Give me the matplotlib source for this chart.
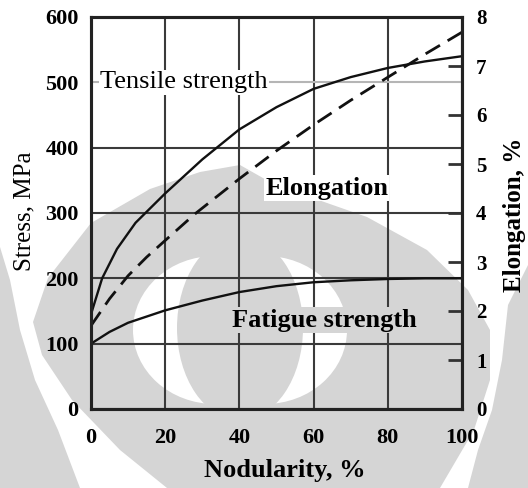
import numpy as np
import matplotlib
matplotlib.use('Agg')
import matplotlib.pyplot as plt
from matplotlib.patches import Ellipse, Polygon

# dati
nodularita = [0, 3, 7, 12, 20, 30, 40, 50, 60, 70, 80, 90, 100]
tensile = [145, 200, 245, 285, 330, 382, 428, 462, 490, 508, 522, 532, 540]

nod_fatica = [0, 5, 10, 20, 30, 40, 50, 60, 70, 80, 90, 100]
fatica = [100, 118, 132, 151, 166, 179, 188, 194, 197, 199, 200, 200]

nod_allung = [0, 5, 10, 15, 20, 28, 35, 40, 50, 60, 70, 80, 90, 100]
allungamento = [1.70, 2.25, 2.72, 3.10, 3.44, 3.98, 4.40, 4.70, 5.27, 5.80, 6.30, 6.77, 7.24, 7.69]

x_ticks = [0, 20, 40, 60, 80, 100]
stress_ticks = [0, 100, 200, 300, 400, 500, 600]
allung_ticks = [0, 1, 2, 3, 4, 5, 6, 7, 8]

serif = ['Liberation Serif', 'DejaVu Serif']
plt.rcParams['font.family'] = serif

W, H = 528, 488
fig = plt.figure(figsize=(W / 100, H / 100), dpi=100)

# filigrana grigia dello scan (solo sfondo, coordinate in pixel)
bg = fig.add_axes([0, 0, 1, 1], zorder=-1)
bg.set_xlim(0, W)
bg.set_ylim(H, 0)
bg.axis('off')
grigio = '#d5d5d5'
sinistra = [(0, 247), (10, 280), (20, 330), (35, 380), (58, 430), (80, 488), (0, 488)]
destra = [(528, 265), (508, 305), (502, 360), (492, 410), (478, 450), (468, 488), (528, 488)]
centro = [(167, 488), (120, 450), (72, 400), (42, 355), (33, 322), (48, 278), (91, 223),
          (150, 189), (200, 172), (240, 165), (270, 182), (310, 197), (367, 217),
          (427, 250), (468, 290), (490, 330), (490, 380), (474, 430), (440, 488)]
for pts in (sinistra, destra, centro):
    bg.add_patch(Polygon(pts, closed=True, color=grigio, lw=0))
bg.add_patch(Ellipse((215, 330), 164, 148, color='white', lw=0))
bg.add_patch(Ellipse((265, 330), 164, 148, color='white', lw=0))
bg.add_patch(Ellipse((240, 328), 126, 184, color=grigio, lw=0))

ax = fig.add_axes([91 / W, 79 / H, 371 / W, 392 / H])
ax.set_facecolor('none')
ax2 = ax.twinx()

ax.set_xlim(0, 100)
ax.set_ylim(0, 600)
ax2.set_ylim(0, 8)

ax.set_xticks(x_ticks)
ax.set_yticks(stress_ticks)
ax2.set_yticks(allung_ticks)

colore_griglia = '#3a3a3a'
ax.grid(True, color=colore_griglia, lw=1.5, zorder=0)
ax.set_axisbelow(True)
ax.yaxis.get_gridlines()[5].set_color('#b5b5b5')

for a in (ax, ax2):
    for s in a.spines.values():
        s.set_linewidth(2.2)
        s.set_color('#222222')

ax.tick_params(axis='both', length=0, labelsize=16, pad=9)
ax.tick_params(axis='x', pad=14)
ax2.tick_params(axis='y', direction='in', length=10, width=2, color='#333333',
                labelsize=15, pad=10)
for lab in ax.get_xticklabels() + ax.get_yticklabels() + ax2.get_yticklabels():
    lab.set_fontweight('bold')

ax.plot(nodularita, tensile, color='#111111', lw=1.7, zorder=3)
ax.plot(nod_fatica, fatica, color='#111111', lw=1.7, zorder=3)
ax2.plot(nod_allung, allungamento, color='#111111', lw=2.0, ls=(0, (6, 3.2)))

ax.text(2.4, 500, 'Tensile strength', fontsize=19, ha='left', va='center',
        bbox=dict(facecolor='white', edgecolor='none', pad=1), zorder=4)
ax.text(63.5, 338, 'Elongation', fontsize=19, fontweight='bold', ha='center',
        va='center', bbox=dict(facecolor='white', edgecolor='none', pad=1), zorder=4)
ax.text(63, 136, 'Fatigue strength', fontsize=19, fontweight='bold', ha='center',
        va='center', bbox=dict(facecolor=grigio, edgecolor='none', pad=1), zorder=4)

fig.text(24 / W, 1 - 211 / H, 'Stress, MPa', fontsize=18, rotation=90,
         ha='center', va='center')
fig.text(514 / W, 1 - 215 / H, 'Elongation, %', fontsize=18, fontweight='bold',
         rotation=90, ha='center', va='center')
fig.text(285 / W, 1 - 471 / H, 'Nodularity, %', fontsize=19, fontweight='bold',
         ha='center', va='center')

fig.savefig('out.png', dpi=100)
